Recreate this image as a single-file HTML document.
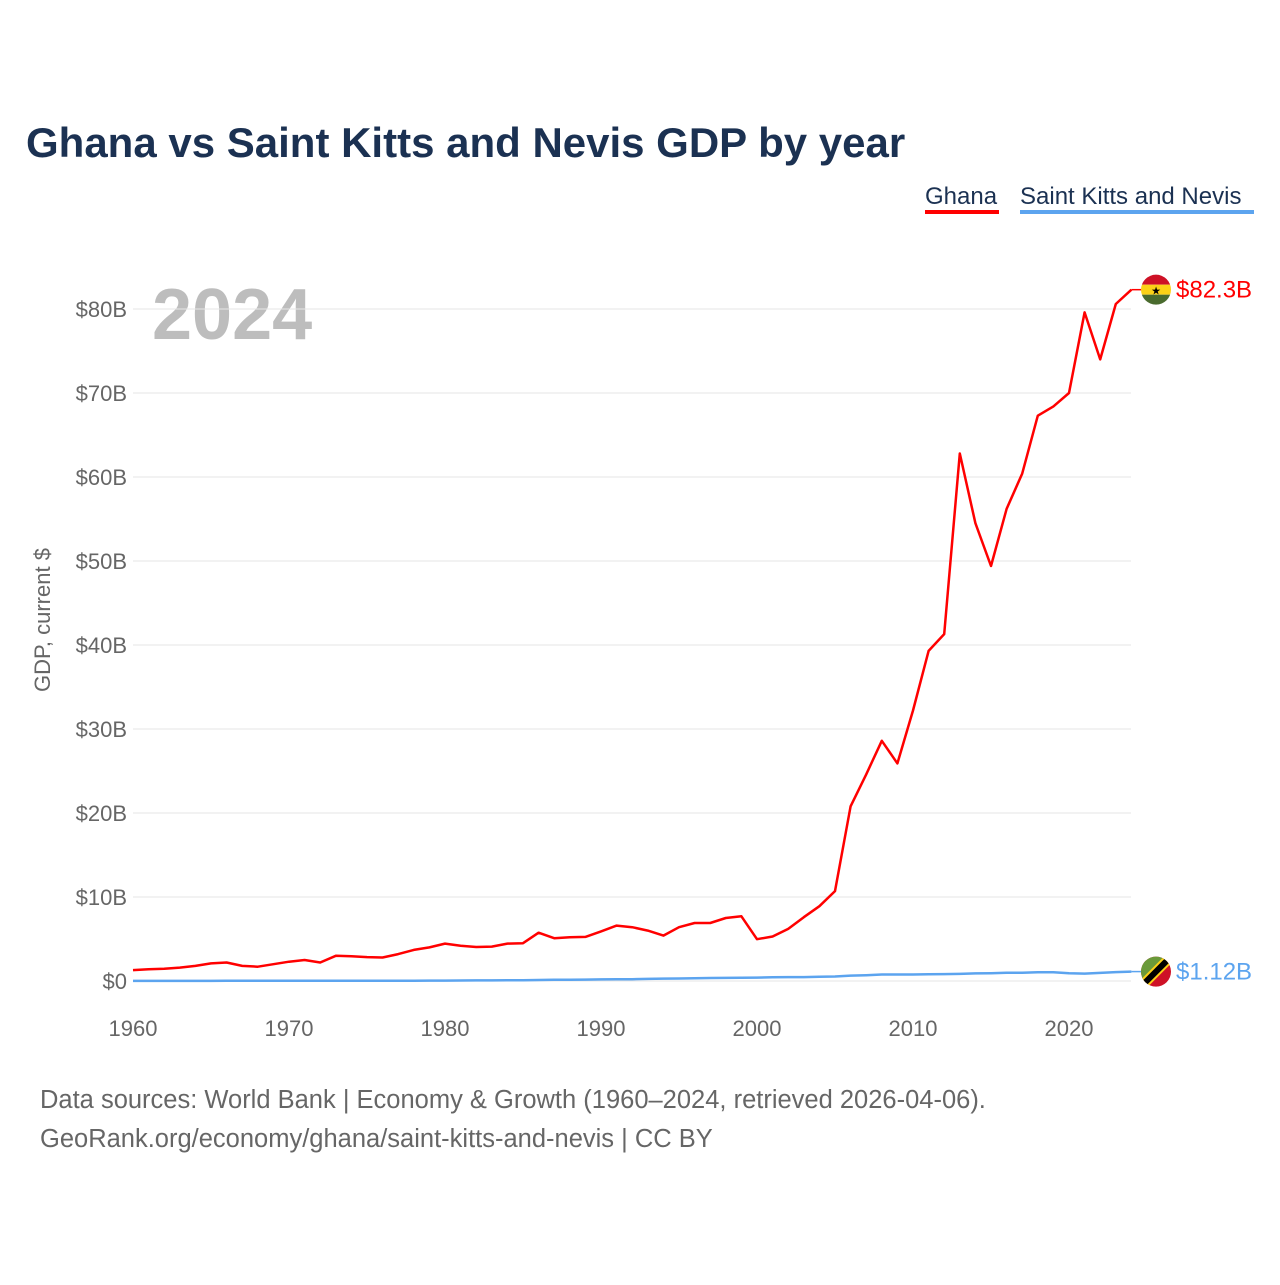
<!DOCTYPE html>
<html><head><meta charset="utf-8">
<style>
body{margin:0;background:#fff;font-family:"Liberation Sans",sans-serif;}
svg text{font-family:"Liberation Sans",sans-serif;}
</style></head>
<body>
<svg width="1280" height="1280" xmlns="http://www.w3.org/2000/svg" id="chart">
<text x="26" y="157" font-size="42" font-weight="bold" fill="#1b3152">Ghana vs Saint Kitts and Nevis GDP by year</text>
<g>
<text x="925" y="204" font-size="24" fill="#1b3152">Ghana</text>
<rect x="925" y="210" width="74" height="4" fill="#ff0000"/>
<text x="1020" y="204" font-size="24" fill="#1b3152">Saint Kitts and Nevis</text>
<rect x="1020" y="210" width="234" height="4" fill="#5ca4ef"/>
</g>
<text x="152" y="339" font-size="72" font-weight="bold" fill="#bdbdbd">2024</text>
<text transform="translate(50,620) rotate(-90)" text-anchor="middle" font-size="22" fill="#666">GDP, current $</text>
<g id="grid"></g><g id="ylabels"></g><g id="xlabels"></g><g id="lines"></g><g id="ends"></g>
<text x="40" y="1108" font-size="25.5" fill="#666">Data sources: World Bank | Economy &amp; Growth (1960–2024, retrieved 2026-04-06).</text>
<text x="40" y="1147" font-size="25.5" fill="#666">GeoRank.org/economy/ghana/saint-kitts-and-nevis | CC BY</text>
</svg>
<script>
const years=[];for(let y=1960;y<=2024;y++)years.push(y);
const ghana=[1.3,1.4,1.45,1.6,1.8,2.1,2.2,1.8,1.7,2.0,2.3,2.5,2.2,3.0,2.95,2.85,2.8,3.2,3.7,4.0,4.45,4.2,4.05,4.1,4.45,4.5,5.75,5.1,5.2,5.25,5.9,6.6,6.4,6.0,5.4,6.4,6.9,6.9,7.5,7.7,4.98,5.3,6.2,7.6,8.9,10.7,20.8,24.6,28.6,25.9,32.2,39.3,41.3,62.8,54.5,49.4,56.2,60.4,67.3,68.4,70.0,79.6,74.0,80.6,82.3];
const skn=[0.012,0.013,0.014,0.015,0.016,0.017,0.018,0.018,0.018,0.019,0.02,0.022,0.024,0.026,0.028,0.03,0.032,0.036,0.04,0.045,0.05,0.06,0.07,0.075,0.085,0.1,0.12,0.14,0.16,0.17,0.19,0.2,0.22,0.25,0.28,0.3,0.33,0.36,0.37,0.39,0.41,0.44,0.46,0.47,0.5,0.53,0.64,0.69,0.77,0.77,0.77,0.81,0.82,0.85,0.91,0.93,0.98,0.99,1.03,1.05,0.92,0.88,0.97,1.06,1.12];
const yTicks=[0,10,20,30,40,50,60,70,80];
const xTicks=[1960,1970,1980,1990,2000,2010,2020];
const X=y=>133+(y-1960)*15.6, Y=v=>981-v*8.4;
const NS="http://www.w3.org/2000/svg";
function mk(tag,attrs,parent){const e=document.createElementNS(NS,tag);for(const k in attrs)e.setAttribute(k,attrs[k]);document.getElementById(parent).appendChild(e);return e;}
yTicks.forEach(t=>{
 const l=mk('line',{x1:133,x2:1131,y1:Y(t),y2:Y(t),stroke:'#e6e6e6','stroke-width':1},'grid');
 
 
 const tx=mk('text',{x:127,y:Y(t)+8,'text-anchor':'end','font-size':22,fill:'#666'},'ylabels');
 tx.textContent='$'+t+(t?'B':'');
 
 
});
xTicks.forEach(t=>{
 const tx=mk('text',{x:X(t),y:1036,'text-anchor':'middle','font-size':22,fill:'#666'},'xlabels');
 tx.textContent=t;
 
 
});
function line(data,color,name){
 const p=mk('path',{d:data.map((v,i)=>(i?'L':'M')+X(years[i]).toFixed(1)+','+Y(v).toFixed(1)).join(''),fill:'none',stroke:color,'stroke-width':2.5,'stroke-linejoin':'round'},'lines');
 
 
}
line(skn,'#5ca4ef','saint-kitts-line');
line(ghana,'#ff0000','ghana-line');
const gy=Y(ghana[ghana.length-1]), sy=Y(skn[skn.length-1]), ex=X(2024);
mk('line',{x1:ex,x2:ex+10,y1:gy,y2:gy,stroke:'#ff0000','stroke-width':1.5},'ends');
mk('line',{x1:ex,x2:ex+10,y1:sy,y2:sy,stroke:'#5ca4ef','stroke-width':1.5},'ends');
const ends=document.getElementById('ends');
ends.insertAdjacentHTML('beforeend',`
<defs><clipPath id="c1"><circle cx="1156" cy="${gy}" r="15"/></clipPath><clipPath id="c2"><circle cx="1156" cy="${sy}" r="15"/></clipPath></defs>
<g clip-path="url(#c1)"><rect x="1140" y="${gy-16}" width="32" height="11" fill="#ce1126"/><rect x="1140" y="${gy-5}" width="32" height="10" fill="#fcd116"/><rect x="1140" y="${gy+5}" width="32" height="11" fill="#4a6b2e"/><text x="1156" y="${gy+5}" text-anchor="middle" font-size="11">★</text></g>
<g clip-path="url(#c2)"><rect x="1140" y="${sy-16}" width="32" height="32" fill="#ce1126"/><polygon points="1140,${sy-16} 1172,${sy-16} 1140,${sy+16}" fill="#6a9a3a"/><line x1="1140" y1="${sy+16}" x2="1172" y2="${sy-16}" stroke="#fcd116" stroke-width="10"/><line x1="1140" y1="${sy+16}" x2="1172" y2="${sy-16}" stroke="#000" stroke-width="6"/></g>
<text x="1176" y="${gy+8}" font-size="24" fill="#ff0000">$82.3B</text>
<text x="1176" y="${sy+8}" font-size="24" fill="#5ca4ef">$1.12B</text>`);
</script>
</body></html>
